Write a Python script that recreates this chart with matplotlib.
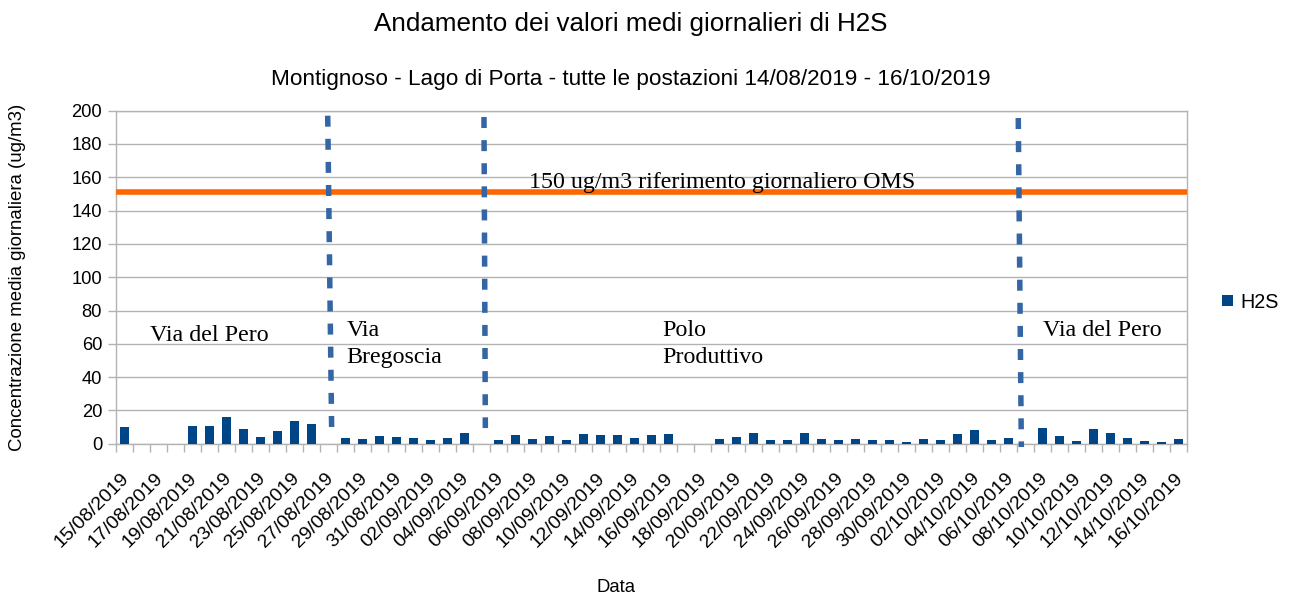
import numpy as np
import pandas as pd
import matplotlib
matplotlib.use("Agg")
import matplotlib.pyplot as plt
from matplotlib.transforms import ScaledTranslation

plt.rcParams['font.family'] = ['Liberation Sans', 'DejaVu Sans']

# dati giornalieri H2S (ug/m3), 0 = nessun dato
giorni = pd.date_range('2019-08-15', '2019-10-16').strftime('%d/%m/%Y').tolist()
h2s = [10.0, 0, 0, 0, 10.4, 10.4, 15.8, 8.6, 3.8, 7.4, 13.4, 11.6, 0,
       3.2, 2.6, 4.4, 3.8, 3.2, 2.0, 3.2, 6.2, 0,
       2.0, 5.0, 2.6, 4.4, 2.0, 5.6, 5.0, 5.0, 3.2, 5.0, 5.6, 0, 0,
       2.6, 3.8, 6.2, 2.0, 2.0, 6.2, 2.6, 2.0, 2.6, 2.0, 2.0, 0.8,
       2.6, 2.0, 5.6, 8.0, 2.0, 3.2, 0,
       9.2, 4.4, 1.4, 8.6, 6.2, 3.2, 1.4, 0.8, 2.6]
riferimento_oms = 151.4

# linee di separazione tra postazioni (x alto, y alto, x basso, y basso)
separatori = [(11.95, 197, 12.18, 10),
              (21.14, 196.2, 21.22, 9.4),
              (52.56, 195.6, 52.74, -2)]

# etichette postazioni (x, y baseline, testo)
postazioni = [(1.5, 61.9, 'Via del Pero'),
              (13.07, 64.9, 'Via'), (13.07, 48.7, 'Bregoscia'),
              (31.63, 64.9, 'Polo'), (31.63, 48.7, 'Produttivo'),
              (54.03, 64.9, 'Via del Pero')]

W, H = 1292, 596
fig = plt.figure(figsize=(W / 100, H / 100), dpi=100)
ax = fig.add_axes([116 / W, 1 - 443.7 / H, (1187.3 - 116) / W, (443.7 - 110.7) / H])

x = np.arange(len(giorni))
vals = np.array(h2s, dtype=float)
vals[vals == 0] = np.nan
ax.bar(x, vals, width=0.53, color='#004586', label='H2S', zorder=3)

ax.set_xlim(-0.5, len(giorni) - 0.5)
ax.set_ylim(0, 200)
ax.set_yticks(range(0, 201, 20))
ax.grid(axis='y', color='#b3b3b3', linewidth=1, zorder=0)
ax.set_axisbelow(True)

ax.set_xticks(x[::2])
ax.set_xticklabels(giorni[::2], rotation=45, ha='right', fontsize=14)
ax.set_xticks(np.arange(-0.5, len(giorni)), minor=True)
ax.tick_params(axis='x', which='major', length=0, pad=19)
ax.tick_params(axis='x', which='minor', length=6, color='#b3b3b3', width=1)
ax.tick_params(axis='y', length=6, color='#b3b3b3', width=1, labelsize=13.2, pad=4)
sposta = ScaledTranslation(8 / 100, 0, fig.dpi_scale_trans)
for lbl in ax.get_xticklabels():
    lbl.set_transform(lbl.get_transform() + sposta)
for s in ax.spines.values():
    s.set_color('#b3b3b3')
    s.set_linewidth(1)

ax.axhline(riferimento_oms, color='#ff6600', linewidth=4, zorder=4)

for x0, y0, x1, y1 in separatori:
    ax.plot([x0, x1], [y0, y1], color='#3465a4', linewidth=3.96,
            dashes=(2.0, 2.2), solid_capstyle='butt', dash_capstyle='butt',
            zorder=5, clip_on=False)

serif = ['Liberation Serif', 'DejaVu Serif']
for px, py, t in postazioni:
    ax.text(px, py, t, family=serif, fontsize=17.3, va='baseline', ha='left', zorder=6)
ax.text(23.77, 153.3, '150 ug/m3 riferimento giornaliero OMS', family=serif,
        fontsize=17.3, va='baseline', ha='left', zorder=6)

fig.text(631 / W, 1 - 24 / H, 'Andamento dei valori medi giornalieri di H2S',
         fontsize=18.7, ha='center', va='center')
fig.text(631 / W, 1 - 79 / H,
         'Montignoso - Lago di Porta - tutte le postazioni 14/08/2019 - 16/10/2019',
         fontsize=16.2, ha='center', va='center')
fig.text(18 / W, 1 - 277 / H, 'Concentrazione media giornaliera (ug/m3)',
         fontsize=13.4, rotation=90, ha='center', va='center')
fig.text(616 / W, 1 - 587 / H, 'Data', fontsize=13.3, ha='center', va='center')

fig.legend(loc='center left', bbox_to_anchor=(1222 / W, 1 - 302 / H), frameon=False,
           fontsize=14.2, handlelength=0.55, handleheight=0.55, handletextpad=0.4,
           borderpad=0, borderaxespad=0)

fig.savefig('out.png', dpi=100)
